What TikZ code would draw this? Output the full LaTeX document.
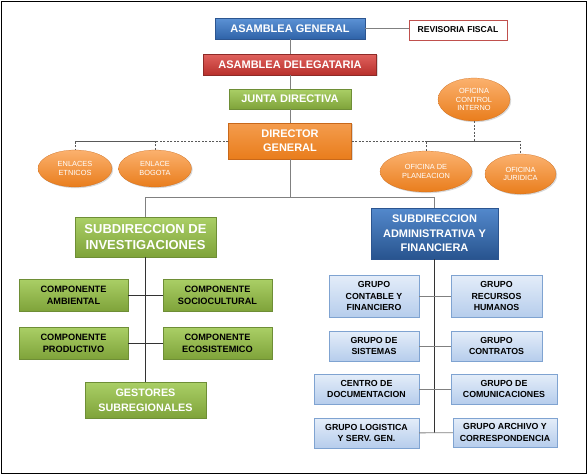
\documentclass[tikz,border=0pt]{standalone}
\usepackage{xcolor}
\usepackage{fontspec}
\setmainfont{Liberation Sans}
\usetikzlibrary{shapes.geometric,shadows}

\definecolor{BlueTop}{HTML}{5C92D5}
\definecolor{BlueBot}{HTML}{2F63A8}
\definecolor{BlueLine}{HTML}{2C5590}
\definecolor{RedTop}{HTML}{E0625E}
\definecolor{RedBot}{HTML}{B8302C}
\definecolor{RedLine}{HTML}{8E2A27}
\definecolor{GreenTop}{HTML}{AACF66}
\definecolor{GreenBot}{HTML}{7FA33A}
\definecolor{GreenLine}{HTML}{6E8E36}
\definecolor{OrangeTop}{HTML}{FBB16E}
\definecolor{OrangeBot}{HTML}{E97D1C}
\definecolor{OrangeLine}{HTML}{C8681A}
\definecolor{PaleTop}{HTML}{E4EDF9}
\definecolor{PaleBot}{HTML}{B6CDEC}
\definecolor{PaleLine}{HTML}{7FA3D1}
\definecolor{FiscalRed}{HTML}{C0504D}

\begin{document}
\begin{tikzpicture}
[x=1pt, y=-1pt,
 OrgBox/.style={rectangle, inner sep=0pt, align=center, very thin,
    drop shadow={opacity=0.3, shadow xshift=1.2pt, shadow yshift=-1.2pt}},
 TopNode/.style={OrgBox, text=white,
    font=\bfseries\fontsize{11}{14.3}\selectfont},
 BlueNode/.style={TopNode, draw=BlueLine, top color=BlueTop, bottom color=BlueBot},
 RedNode/.style={TopNode, draw=RedLine, top color=RedTop, bottom color=RedBot},
 GreenNode/.style={TopNode, draw=GreenLine, top color=GreenTop, bottom color=GreenBot},
 OrangeNode/.style={TopNode, draw=OrangeLine, top color=OrangeTop!60!OrangeBot, bottom color=OrangeBot},
 CompNode/.style={OrgBox, draw=GreenLine, top color=GreenTop, bottom color=GreenBot,
    font=\bfseries\fontsize{9.2}{12.3}\selectfont,
    minimum width=109pt, minimum height=32pt},
 GroupNode/.style={OrgBox, draw=PaleLine, top color=PaleTop, bottom color=PaleBot,
    font=\bfseries\fontsize{8.8}{11.7}\selectfont},
 OfficeNode/.style={ellipse, inner sep=0pt, align=center, very thin,
    draw=OrangeLine, top color=OrangeTop, bottom color=OrangeBot, text=white,
    font=\fontsize{7.4}{8.8}\selectfont,
    drop shadow={opacity=0.3, shadow xshift=1.2pt, shadow yshift=-1.2pt}},
 Link/.style={draw=black!50, line width=0.9pt},
 SubLink/.style={draw=black!80, line width=0.9pt},
 DashLink/.style={draw=black!65, line width=0.8pt, dash pattern=on 2pt off 1.5pt}]

\useasboundingbox (0,0) rectangle (588,475);
\draw[line width=1.3pt] (1.5,1.5) rectangle (586.5,473.5);

% top of the chart
\node[BlueNode, minimum width=150pt, minimum height=21pt] (ag) at (290,28.5) {ASAMBLEA GENERAL};
\node[OrgBox, draw=FiscalRed, thick, fill=white, minimum width=98pt, minimum height=20pt,
      font=\bfseries\fontsize{8.6}{10}\selectfont] (rf) at (458,30) {REVISORIA FISCAL};
\node[RedNode, minimum width=173pt, minimum height=21pt] (ad) at (290,64.5) {ASAMBLEA DELEGATARIA};
\node[GreenNode, minimum width=122pt, minimum height=20pt] (jd) at (290,99) {JUNTA DIRECTIVA};
\node[OrangeNode, minimum width=123pt, minimum height=36pt] (dg) at (290,141) {DIRECTOR\\GENERAL};

% offices
\node[OfficeNode, minimum width=74pt, minimum height=37pt] (etn) at (75,168.5) {ENLACES\\ETNICOS};
\node[OfficeNode, minimum width=73pt, minimum height=37pt] (bog) at (155,168.5) {ENLACE\\BOGOTA};
\node[OfficeNode, minimum width=72pt, minimum height=43pt] (oci) at (474,99.5) {OFICINA\\CONTROL\\INTERNO};
\node[OfficeNode, minimum width=92pt, minimum height=41pt] (pla) at (426,171.5) {OFICINA DE\\PLANEACION};
\node[OfficeNode, minimum width=71pt, minimum height=40pt] (jur) at (520.5,174) {OFICINA\\JURIDICA};

\coordinate (dl) at (75,141);
\coordinate (dr) at (520.5,141);
\coordinate (split) at (290,197);

\draw[Link] (ag) -- (rf.west |- ag);
\draw[Link] (ag) -- (ad);
\draw[Link] (ad) -- (jd);
\draw[Link] (jd) -- (dg);
\draw[DashLink] (dg.west) -- (dl) -- (etn);
\draw[DashLink] (bog) |- (dl);
\draw[DashLink] (dg.east) -- (dr) -- (jur);
\draw[DashLink] (pla) |- (dr);
\draw[DashLink] (oci) |- (dr);

% two branches
\node[GreenNode, minimum width=141pt, minimum height=40pt,
      font=\bfseries\fontsize{13}{16}\selectfont] (sdi) at (145.5,237) {SUBDIRECCION DE\\INVESTIGACIONES};
\node[BlueNode, top color=BlueTop!80!BlueBot, bottom color=BlueBot!85!black,
      minimum width=127pt, minimum height=51pt] (sda) at (434.5,233.5)
      {SUBDIRECCION\\ADMINISTRATIVA Y\\FINANCIERA};

\draw[Link] (dg) -- (split);
\draw[Link] (split) -| (sdi);
\draw[Link] (split) -| (sda);

% investigation side
\foreach \name/\x/\y/\txt in {amb/73.5/295/{COMPONENTE\\AMBIENTAL},
    soc/217.5/295/{COMPONENTE\\SOCIOCULTURAL},
    pro/73.5/343/{COMPONENTE\\PRODUCTIVO},
    eco/217.5/343/{COMPONENTE\\ECOSISTEMICO}}
    \node[CompNode] (\name) at (\x,\y) {\txt};
\node[GreenNode, minimum width=121pt, minimum height=36pt,
      font=\bfseries\fontsize{10.8}{15}\selectfont] (ges) at (145.5,400) {GESTORES\\SUBREGIONALES};

\draw[SubLink] (sdi) -- (ges);
\draw[SubLink] (amb) -- (soc);
\draw[SubLink] (pro) -- (eco);

% administrative side
\foreach \name/\x/\y/\w/\h/\txt in {con/374/296/90/42/{GRUPO\\CONTABLE Y\\FINANCIERO},
    rrhh/496.5/296/91/42/{GRUPO\\RECURSOS\\HUMANOS},
    sis/374/346/90/30/{GRUPO DE\\SISTEMAS},
    ctr/496.5/346/91/30/{GRUPO\\CONTRATOS},
    doc/366.5/389/105/30/{CENTRO DE\\DOCUMENTACION},
    com/504/389/106/30/{GRUPO DE\\COMUNICACIONES},
    log/366.5/433/105/30/{GRUPO LOGISTICA\\Y SERV. GEN.},
    arc/505/432.5/104/29/{GRUPO ARCHIVO Y\\CORRESPONDENCIA}}
    \node[GroupNode, minimum width=\w pt, minimum height=\h pt] (\name) at (\x,\y) {\txt};

\coordinate (sdaend) at (434.5,432.5);
\draw[SubLink] (sda) -- (sdaend);
\draw[Link] (con) -- (rrhh);
\draw[Link] (sis) -- (ctr);
\draw[Link] (doc) -- (com);
\draw[Link] (log) -- (arc);
\end{tikzpicture}
\end{document}
